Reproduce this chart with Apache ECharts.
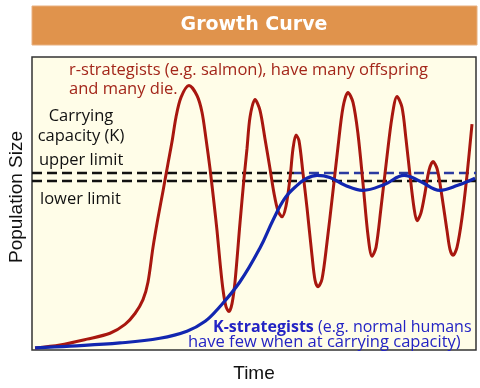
<!DOCTYPE html>
<html>
<head>
<meta charset="utf-8">
<script src="https://cdn.jsdelivr.net/npm/echarts@6/dist/echarts.min.js"></script>
<style>html,body{margin:0;padding:0;background:#fff;}#c{width:480px;height:388px;}</style>
</head>
<body>
<div id="c"></div>
<script>
// Values (x: time 0-100, y: population size 0-100)
const rStrategists = [
  [0.68,0.67],[6.31,1.68],[12.39,3.70],[17.57,5.72],[20.95,8.75],[23.20,12.46],[25.00,17.17],[26.13,23.23],
  [27.25,35.02],[28.38,45.12],[29.50,54.21],[30.63,63.64],[31.53,71.04],[32.43,79.46],[33.56,86.20],[35.36,90.24],
  [37.16,86.87],[38.29,81.14],[39.19,72.05],[40.09,61.95],[40.99,50.17],[41.67,40.74],[42.34,29.97],[43.02,20.54],
  [43.69,14.81],[44.37,13.13],[45.05,15.82],[45.72,23.23],[46.85,43.43],[47.75,58.59],[48.42,68.69],[49.10,79.46],
  [50.23,85.52],[51.35,81.82],[52.48,72.05],[53.60,61.95],[54.50,53.54],[55.41,47.47],[56.31,45.45],[57.21,49.16],
  [58.11,58.59],[58.78,68.69],[59.46,73.40],[60.14,71.38],[61.04,60.27],[61.94,48.48],[63.06,32.32],[63.74,23.91],
  [64.41,21.55],[65.32,24.24],[66.44,36.70],[67.79,54.21],[68.92,69.36],[70.05,82.83],[71.17,87.88],[72.30,84.51],
  [73.42,73.74],[74.55,56.90],[75.68,39.06],[76.58,31.99],[77.48,35.02],[78.60,48.48],[79.95,65.99],[81.08,79.46],
  [82.21,86.53],[83.33,82.83],[84.23,72.05],[85.14,59.60],[86.04,48.48],[86.71,44.11],[87.61,46.80],[88.51,53.54],
  [89.41,61.28],[90.32,64.31],[91.22,61.95],[92.12,54.55],[93.47,40.74],[94.14,34.34],[94.82,32.32],[95.72,35.02],
  [96.85,45.12],[97.97,59.60],[99.10,77.10]
];
const kStrategists = [
  [0.7,0.7],[8.6,1.3],[19.8,2.4],[28.8,4.0],[34.9,6.4],[39.0,9.8],[41.9,14.1],[46.8,23.2],
  [51.4,35.0],[54.3,44.4],[57.0,51.9],[59.7,56.2],[61.9,58.6],[64.2,59.6],[67.1,58.9],[70.5,56.2],
  [74.5,54.5],[79.5,56.6],[83.8,59.6],[87.4,57.6],[91.9,54.5],[95.9,56.2],[99.8,58.6]
];
const upperLimit = 60.4;
const lowerLimit = 57.7;
const limitSplitX = 59.0;
const titleText = 'Growth Curve';
const xName = 'Time';
const yName = 'Population Size';

const chart = echarts.init(document.getElementById('c'));
const font = '"Open Sans", "Noto Sans", sans-serif';
const dashed = (color) => ({ color: color, width: 2.5, type: [10, 5] });
chart.setOption({
  animation: false,
  backgroundColor: '#ffffff',
  grid: { left: 32, top: 57, width: 444, height: 297, show: true, backgroundColor: '#FFFDE8', borderColor: '#333', borderWidth: 1.5 },
  xAxis: { type: 'value', min: 0, max: 100, name: xName, nameLocation: 'middle', nameGap: 14,
    nameTextStyle: { fontFamily: '"Liberation Sans", Arial, sans-serif', fontSize: 19, color: '#111' },
    axisLine: { show: false }, axisTick: { show: false }, axisLabel: { show: false }, splitLine: { show: false } },
  yAxis: { type: 'value', min: 0, max: 100,
    axisLine: { show: false }, axisTick: { show: false }, axisLabel: { show: false }, splitLine: { show: false } },
  series: [
    { type: 'line', data: [[0, upperLimit], [limitSplitX, upperLimit]], symbol: 'none', lineStyle: dashed('#111'), z: 1 },
    { type: 'line', data: [[limitSplitX, upperLimit], [100, upperLimit]], symbol: 'none', lineStyle: dashed('#2a3aa0'), z: 1 },
    { type: 'line', data: [[0, lowerLimit], [100, lowerLimit]], symbol: 'none', lineStyle: dashed('#111'), z: 1 },
    { type: 'line', data: rStrategists, smooth: 0.3, symbol: 'none', lineStyle: { color: '#A8170F', width: 3 }, z: 2 },
    { type: 'line', data: kStrategists, smooth: 0.4, symbol: 'none', lineStyle: { color: '#1226B0', width: 3.2 }, z: 3 }
  ],
  graphic: [
    { type: 'rect', shape: { x: 32, y: 6, width: 445, height: 39 }, style: { fill: '#E0934C', stroke: '#E8B080', lineWidth: 1 }, z: -1 },
    { type: 'text', x: 254, y: 25, style: { text: titleText, fill: '#fff', font: 'bold 19px "DejaVu Sans", Verdana, sans-serif', textAlign: 'center', textVerticalAlign: 'middle' } },
    { type: 'text', x: 17, y: 197, rotation: Math.PI / 2, style: { text: yName, fill: '#111', font: '19px "Liberation Sans", Arial, sans-serif', textAlign: 'center', textVerticalAlign: 'middle' } },
    { type: 'text', x: 69, y: 70, z: 10, style: { text: 'r-strategists (e.g. salmon), have many offspring', fill: '#A3261A', font: '16.5px ' + font, textVerticalAlign: 'middle' } },
    { type: 'text', x: 69, y: 89, z: 10, style: { text: 'and many die.', fill: '#A3261A', font: '16.5px ' + font, textVerticalAlign: 'middle' } },
    { type: 'text', x: 81, y: 116, z: 10, style: { text: 'Carrying', fill: '#111', font: '16.5px ' + font, textAlign: 'center', textVerticalAlign: 'middle' } },
    { type: 'text', x: 81, y: 136, z: 10, style: { text: 'capacity (K)', fill: '#111', font: '16.5px ' + font, textAlign: 'center', textVerticalAlign: 'middle' } },
    { type: 'text', x: 39, y: 160, z: 10, style: { text: 'upper limit', fill: '#111', font: '16.5px ' + font, textVerticalAlign: 'middle' } },
    { type: 'text', x: 40, y: 199, z: 10, style: { text: 'lower limit', fill: '#111', font: '16.5px ' + font, textVerticalAlign: 'middle' } },
    { type: 'text', x: 213, y: 327, z: 10, style: { text: '{b|K-strategists} (e.g. normal humans', rich: { b: { fontWeight: 'bold', fill: '#2424C4', fontSize: 16, fontFamily: font } }, fill: '#2424C4', font: '16px ' + font, textVerticalAlign: 'middle' } },
    { type: 'text', x: 188, y: 342, z: 10, style: { text: 'have few when at carrying capacity)', fill: '#2424C4', font: '16.5px ' + font, textVerticalAlign: 'middle' } }
  ]
});
</script>
</body>
</html>
